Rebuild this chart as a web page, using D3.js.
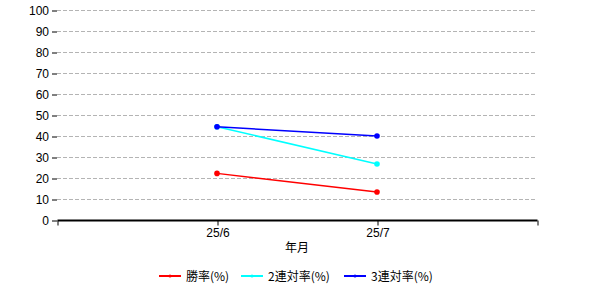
<!DOCTYPE html>
<html><head><meta charset="utf-8">
<script src="https://cdn.jsdelivr.net/npm/d3@7"></script>
<style>body{margin:0;background:#fff}svg{display:block}</style>
</head><body>
<script>
const categories = ["25/6", "25/7"];
const seriesNames = ["勝率(%)", "2連対率(%)", "3連対率(%)"];
const winRate = [22.2, 13.3];
const quinellaRate = [44.4, 26.7];
const showRate = [44.4, 40.0];
const yTicks = [0,10,20,30,40,50,60,70,80,90,100];
const colors = ["#ff0000", "#00ffff", "#0000ff"];
const xTitle = "年月";

(function(){
const series = [winRate, quinellaRate, showRate];
const W = 600, H = 300;
const mLeft = 57, mRight = 537, mTop = 10, mBottom = 220;
const svg = d3.select("body").append("svg").attr("width", W).attr("height", H);
const font = "'Liberation Sans', Arial, 'Noto Sans CJK JP', sans-serif";

const x = d3.scalePoint().domain(["", ...categories, " "]).range([mLeft, mRight]);
const y = d3.scaleLinear().domain([0, 100]).range([mBottom, mTop]);

// grid
svg.append("g").selectAll("line").data(yTicks.filter(d => d > 0)).join("line")
  .attr("x1", mLeft).attr("x2", mRight)
  .attr("y1", d => y(d) + 0.5).attr("y2", d => y(d) + 0.5)
  .attr("stroke", "#b4b4b4").attr("stroke-dasharray", "4,2");

// y axis
const yAxis = svg.append("g").attr("transform", `translate(${mLeft},0.5)`)
  .call(d3.axisLeft(y).tickValues(yTicks).tickSize(5).tickPadding(3));
yAxis.select(".domain").remove();
yAxis.selectAll("text").attr("font-family", font).attr("font-size", 12).attr("fill", "#000");
yAxis.selectAll("line").attr("stroke", "#000");

// x axis
const xAxis = svg.append("g").attr("transform", `translate(0.5,${mBottom + 0.5})`)
  .call(d3.axisBottom(x).tickSize(5).tickSizeOuter(0).tickPadding(3));
xAxis.select(".domain").attr("stroke", "#000").attr("stroke-width", 2)
  .attr("d", `M${mLeft},0H${mRight}`);
xAxis.selectAll("text").attr("font-family", font).attr("font-size", 12).attr("fill", "#000");
xAxis.selectAll("line").attr("stroke", "#000");

svg.append("text").attr("x", 297).attr("y", 252).attr("text-anchor", "middle")
  .attr("font-family", "'Noto Sans CJK JP', sans-serif").attr("font-size", 12).text(xTitle);

const line = d3.line().x((d, i) => x(categories[i])).y(d => y(d));
series.forEach((s, k) => {
  svg.append("path").datum(s).attr("d", line).attr("fill", "none")
    .attr("stroke", colors[k]).attr("stroke-width", 1.5);
  svg.append("g").selectAll("circle").data(s).join("circle")
    .attr("cx", (d, i) => x(categories[i])).attr("cy", d => y(d)).attr("r", 2.8)
    .attr("fill", colors[k]);
});

// legend
const legX = [159, 241, 344];
seriesNames.forEach((n, k) => {
  const g = svg.append("g").attr("transform", `translate(${legX[k]},276)`);
  g.append("line").attr("x1", 0).attr("x2", 22).attr("stroke", colors[k]).attr("stroke-width", 2);
  g.append("circle").attr("cx", 11).attr("cy", 0).attr("r", 1.5).attr("fill", colors[k]);
  g.append("text").attr("x", 27).attr("y", 4.5).attr("font-family", "'Noto Sans CJK JP', sans-serif")
    .attr("font-size", 12).text(n);
});
})();
</script>
</body></html>
